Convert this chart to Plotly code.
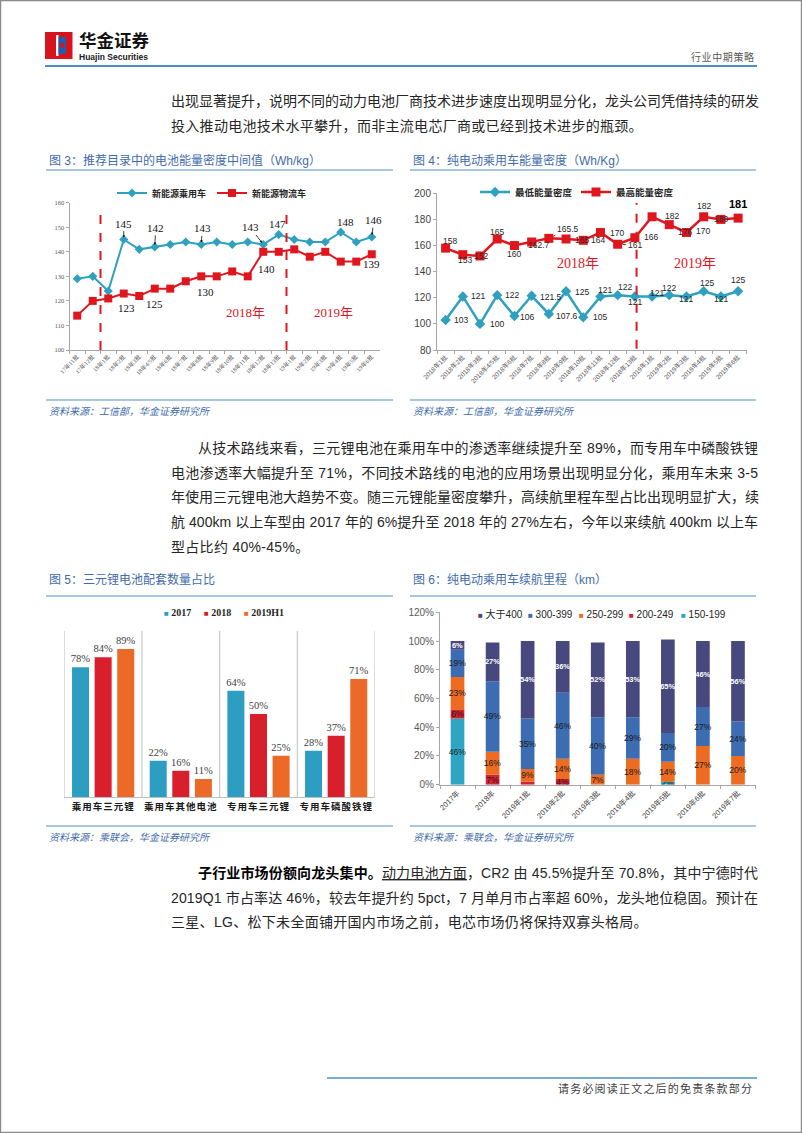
import plotly.graph_objects as go

W, H = 802, 1133
def fx(x): return x / W
def fy(y): return 1 - y / H

CJK = "Noto Sans CJK SC"
SANS = "Liberation Sans, Noto Sans CJK SC"
SERIF = "Liberation Serif, Noto Sans CJK SC"

# ---------------- data ----------------
c3_cats = ["17年11批", "17年12批", "18年1批", "18年2批", "18年3批", "18年4/5批", "18年6批", "18年7批",
           "18年8批", "18年9批", "18年10批", "18年11批", "18年12批", "18年13批", "19年1批", "19年2批",
           "19年3批", "19年4批", "19年5批", "19年6批"]
c3_passenger = [129, 130, 124, 145, 141, 142, 143, 144, 143, 144, 143, 144, 143, 147, 145, 144, 144, 148, 144, 146]
c3_logistics = [114, 120, 121, 123, 122, 125, 125, 128, 130, 130, 132, 130, 140, 140, 141, 138, 140, 136, 136, 139]

c4_cats = ["2018年1批", "2018年2批", "2018年3批", "2018年4/5批", "2018年6批", "2018年7批", "2018年8批",
           "2018年9批", "2018年10批", "2018年11批", "2018年12批", "2018年13批", "2019年1批", "2019年2批",
           "2019年3批", "2019年4批", "2019年5批", "2019年6批"]
c4_min = [103, 121, 100, 122, 106, 121.5, 107.6, 125, 105, 121, 122, 121, 121, 122, 121, 125, 121, 125]
c4_max = [158, 153, 152, 165, 160, 162.7, 165.5, 165, 164, 170, 161, 166, 182, 176, 170, 182, 180, 181]

c5_cats = ["乘用车三元锂", "乘用车其他电池", "专用车三元锂", "专用车磷酸铁锂"]
c5_2017 = [78, 22, 64, 28]
c5_2018 = [84, 16, 50, 37]
c5_2019h1 = [89, 11, 25, 71]

c6_cats = ["2017年", "2018年", "2019年1批", "2019年2批", "2019年3批", "2019年4批", "2019年5批", "2019年6批", "2019年7批"]
c6_150_199 = [46, 0, 0, 0, 0, 0, 2, 0, 0]
c6_200_249 = [6, 7, 2, 4, 0, 0, 0, 0, 0]
c6_250_299 = [23, 16, 9, 14, 7, 18, 14, 27, 20]
c6_300_399 = [19, 49, 35, 46, 40, 29, 20, 27, 24]
c6_400_up = [6, 27, 54, 36, 52, 53, 65, 46, 56]
c6_hidden_labels = [("200-249", 2)]

# colours
C_TEAL = "#2fa1bf"
C_RED = "#e0161f"
TITLE_C = "#3f6caa"
RULE_C = "#a9c6e2"

fig = go.Figure()

# ---------------- chart 3 ----------------
fig.add_trace(go.Scatter(x=c3_cats, y=c3_passenger, name="新能源乘用车", mode="lines+markers",
                         line=dict(color=C_TEAL, width=2), marker=dict(symbol="diamond", size=7, color=C_TEAL),
                         xaxis="x", yaxis="y", legend="legend", cliponaxis=False))
fig.add_trace(go.Scatter(x=c3_cats, y=c3_logistics, name="新能源物流车", mode="lines+markers",
                         line=dict(color=C_RED, width=2), marker=dict(symbol="square", size=8, color=C_RED),
                         xaxis="x", yaxis="y", legend="legend", cliponaxis=False))

# ---------------- chart 4 ----------------
fig.add_trace(go.Scatter(x=c4_cats, y=c4_min, name="最低能量密度", mode="lines+markers",
                         line=dict(color=C_TEAL, width=2.5), marker=dict(symbol="diamond", size=8, color=C_TEAL),
                         xaxis="x2", yaxis="y2", legend="legend2", cliponaxis=False))
fig.add_trace(go.Scatter(x=c4_cats, y=c4_max, name="最高能量密度", mode="lines+markers",
                         line=dict(color=C_RED, width=2.5), marker=dict(symbol="square", size=9, color=C_RED),
                         xaxis="x2", yaxis="y2", legend="legend2", cliponaxis=False))

# ---------------- chart 5 ----------------
c5_series = [("2017", c5_2017, "#2d9dc2"), ("2018", c5_2018, "#d81f2c"), ("2019H1", c5_2019h1, "#ec6a28")]
c5_centers = [-0.291, 0.0, 0.291]
c5_w = 0.219
for (name, vals, col), c in zip(c5_series, c5_centers):
    fig.add_trace(go.Bar(x=c5_cats, y=vals, name=name, width=c5_w, offset=c - c5_w / 2,
                         marker=dict(color=col, line=dict(width=0)),
                         text=[f"{v}%" for v in vals], textposition="outside", constraintext="none",
                         textangle=0, textfont=dict(family=SERIF, size=10.5, color="#404040"),
                         xaxis="x3", yaxis="y3", showlegend=False, cliponaxis=False))

# ---------------- chart 6 ----------------
c6_series = [("150-199", c6_150_199, "#2ea6c3", "#1a1a1a"),
             ("200-249", c6_200_249, "#d42234", "#1a1a1a"),
             ("250-299", c6_250_299, "#ee6b22", "#1a1a1a"),
             ("300-399", c6_300_399, "#3c6db2", "#1a1a1a"),
             ("大于400", c6_400_up, "#47497e", "#ffffff")]
base = [0] * len(c6_cats)
for name, vals, col, tcol in c6_series:
    texts = [("" if (v == 0 or (name, i) in c6_hidden_labels) else f"{v}%") for i, v in enumerate(vals)]
    fig.add_trace(go.Bar(x=c6_cats, y=vals, base=list(base), name=name, width=0.39, offset=-0.195,
                         marker=dict(color=col, line=dict(width=0)),
                         text=texts, textposition="inside", insidetextanchor="middle", textangle=0,
                         constraintext="none",
                         textfont=dict(family=SANS, size=(7.5 if tcol == "#ffffff" else 8.5), color=tcol,
                                       weight=("bold" if tcol == "#ffffff" else "normal")),
                         xaxis="x4", yaxis="y4", showlegend=False))
    base = [b + v for b, v in zip(base, vals)]

AX_LINE = "#a6a6a6"
common_x = dict(showgrid=False, zeroline=False, showline=True, linecolor=AX_LINE, linewidth=1,
                ticks="outside", ticklen=3, tickcolor=AX_LINE, type="category", tickmode="array",
                automargin=False)
common_y = dict(showgrid=False, zeroline=False, showline=True, linecolor=AX_LINE, linewidth=1,
                ticks="outside", ticklen=3, tickcolor=AX_LINE, automargin=False)

layout = dict(
    width=W, height=H, margin=dict(l=0, r=0, t=0, b=0, pad=0, autoexpand=False),
    paper_bgcolor="white", plot_bgcolor="rgba(0,0,0,0)",
    barmode="overlay",
    xaxis=dict(common_x, domain=[fx(69.5), fx(379.5)], anchor="y", range=[-0.5, 19.5],
               tickvals=c3_cats, ticktext=c3_cats, tickson="boundaries", tickangle=-45,
               tickfont=dict(family=SERIF, size=6, color="#595959")),
    yaxis=dict(common_y, domain=[fy(350), fy(202.7)], anchor="x", range=[100, 160], dtick=10,
               tickfont=dict(family=SERIF, size=6.5, color="#595959")),
    xaxis2=dict(common_x, domain=[fx(437), fx(746.7)], anchor="y2", range=[-0.5, 17.5],
                tickvals=c4_cats, ticktext=c4_cats, tickson="boundaries", tickangle=-45,
                tickfont=dict(family=SANS, size=6.5, color="#595959")),
    yaxis2=dict(common_y, domain=[fy(350), fy(193.3)], anchor="x2", range=[80, 200], dtick=20,
                tickfont=dict(family=SANS, size=10, color="#404040")),
    xaxis3=dict(common_x, domain=[fx(64.3), fx(375)], anchor="y3", range=[-0.5, 3.5],
                tickvals=c5_cats, ticktext=[f'<span style="letter-spacing:1px">{c}</span>' for c in c5_cats],
                ticks="", linecolor="#bfbfbf",
                tickfont=dict(family=CJK, size=9.5, color="#1a1a1a", weight="bold")),
    yaxis3=dict(domain=[fy(797.3), fy(630.7)], anchor="x3", range=[0, 100], visible=False),
    xaxis4=dict(common_x, domain=[fx(440), fx(755.5)], anchor="y4", range=[-0.5, 8.5],
                tickvals=c6_cats, ticktext=c6_cats, tickson="boundaries", tickangle=-45,
                tickfont=dict(family=SANS, size=7.5, color="#404040")),
    yaxis4=dict(common_y, domain=[fy(784.7), fy(612.3)], anchor="x4", range=[0, 120], dtick=20,
                ticksuffix="%", tickfont=dict(family=SANS, size=10, color="#595959")),
    legend=dict(x=fx(112), y=fy(193), xanchor="left", yanchor="middle", orientation="h",
                bgcolor="rgba(0,0,0,0)", entrywidth=55, entrywidthmode="pixels", itemwidth=30,
                font=dict(family=CJK, size=9, color="#262626", weight="bold")),
    legend2=dict(x=fx(475), y=fy(192), xanchor="left", yanchor="middle", orientation="h",
                 bgcolor="rgba(0,0,0,0)", entrywidth=56, entrywidthmode="pixels", itemwidth=30,
                 font=dict(family=CJK, size=9.5, color="#262626", weight="bold")),
)
fig.update_layout(**layout)

shapes = []
annotations = []

def hline(x0, x1, y, color, width):
    shapes.append(dict(type="line", xref="paper", yref="paper", x0=fx(x0), x1=fx(x1), y0=fy(y), y1=fy(y),
                       line=dict(color=color, width=width)))

def text_at(x, y, s, size, color, family=CJK, xanchor="left", **kw):
    annotations.append(dict(xref="paper", yref="paper", x=fx(x), y=fy(y), text=s, showarrow=False,
                            xanchor=xanchor, yanchor="middle",
                            font=dict(size=size, color=color, family=family), **kw))

# page border
shapes.append(dict(type="rect", xref="paper", yref="paper", x0=fx(0.6), x1=fx(801.4), y0=fy(0.6), y1=fy(1132.4),
                   line=dict(color="#8a8a8a", width=1.2)))

# header logo
shapes.append(dict(type="rect", xref="paper", yref="paper", x0=fx(45), x1=fx(72.5), y0=fy(59), y1=fy(32),
                   fillcolor="#d7141d", line=dict(width=0)))
shapes.append(dict(type="rect", xref="paper", yref="paper", x0=fx(56), x1=fx(58.5), y0=fy(56), y1=fy(35),
                   fillcolor="white", line=dict(width=0)))
shapes.append(dict(type="rect", xref="paper", yref="paper", x0=fx(58.5), x1=fx(66), y0=fy(54), y1=fy(37),
                   fillcolor="#1d5fae", line=dict(width=0)))
shapes.append(dict(type="rect", xref="paper", yref="paper", x0=fx(60.5), x1=fx(64), y0=fy(48), y1=fy(43),
                   fillcolor="#d7141d", line=dict(width=0)))
text_at(77, 39.5, "<b>华金证券</b>", 17.5, "#111111")
text_at(77, 56.5, "<b>Huajin Securities</b>", 8.5, "#222222", family=SANS)
text_at(757, 57, '<span style="letter-spacing:0.6px">行业中期策略</span>', 10, "#595959", xanchor="right")
hline(45, 757, 66, "#4d90c6", 2)

# ----- paragraph helper with justification -----
ARIAL = {'0': 556, '1': 556, '2': 556, '3': 556, '4': 556, '5': 556, '6': 556, '7': 556, '8': 556, '9': 556,
         '%': 889, '.': 278, '-': 333, ' ': 278, 'k': 500, 'm': 833, 'L': 556, 'G': 778, 'C': 722,
         'R': 722, 'Q': 778, 'p': 556, 'c': 500, 't': 278}

def est_width(s, size):
    w = 0.0
    for ch in s:
        if ord(ch) > 0x2000:
            w += size
        else:
            w += ARIAL.get(ch, 556) / 1000 * size
    return w

BODY_C = "#262626"
def para_line(x, y, segments, size=14, right=None, spacing=0.3):
    full = "".join(t for t, _ in segments)
    ls = spacing
    if right is not None:
        n = len(full)
        ls = max(0.0, (right - x - est_width(full, size)) / (n - 1))
    parts = []
    for t, st in segments:
        style = f"letter-spacing:{ls:.3f}px"
        if st:
            style += ";" + st
        parts.append(f'<span style="{style}">{t}</span>')
    text_at(x, y, "".join(parts), size, BODY_C, family=SANS)

# paragraph 1
para_line(169, 100.5, [("出现显著提升，说明不同的动力电池厂商技术进步速度出现明显分化，龙头公司凭借持续的研发", "")], right=756)
para_line(169, 126.5, [("投入推动电池技术水平攀升，而非主流电芯厂商或已经到技术进步的瓶颈。", "")])

# paragraph 2
p2 = [(196, "从技术路线来看，三元锂电池在乘用车中的渗透率继续提升至 89%，而专用车中磷酸铁锂", True),
      (169, "电池渗透率大幅提升至 71%，不同技术路线的电池的应用场景出现明显分化，乘用车未来 3-5", True),
      (169, "年使用三元锂电池大趋势不变。随三元锂能量密度攀升，高续航里程车型占比出现明显扩大，续", True),
      (169, "航 400km 以上车型由 2017 年的 6%提升至 2018 年的 27%左右，今年以来续航 400km 以上车", True),
      (169, "型占比约 40%-45%。", False)]
for k, (x0, s, just) in enumerate(p2):
    para_line(x0, 448 + k * 24.7, [(s, "")], right=(756 if just else None))

# paragraph 3
para_line(196, 873, [("子行业市场份额向龙头集中。", "font-weight:bold;fill:#000000"),
                     ("动力电池方面", "text-decoration:underline"),
                     ("，CR2 由 45.5%提升至 70.8%，其中宁德时代", "")], right=756)
para_line(169, 897.5, [("2019Q1 市占率达 46%，较去年提升约 5pct，7 月单月市占率超 60%，龙头地位稳固。预计在", "")], right=756)
para_line(169, 922, [("三星、LG、松下未全面铺开国内市场之前，电芯市场仍将保持双寡头格局。", "")])

# figure titles / rules / sources
text_at(47, 160, "图 3：推荐目录中的电池能量密度中间值（Wh/kg）", 12, TITLE_C, family=SANS)
text_at(411, 160, "图 4：纯电动乘用车能量密度（Wh/Kg）", 12, TITLE_C, family=SANS)
hline(46, 393, 170, RULE_C, 2)
hline(410, 756, 170, RULE_C, 2)
hline(46, 393, 400, RULE_C, 2)
hline(410, 756, 400, RULE_C, 2)
text_at(47, 410.5, "<i>资料来源：工信部，华金证券研究所</i>", 10, TITLE_C)
text_at(411, 410.5, "<i>资料来源：工信部，华金证券研究所</i>", 10, TITLE_C)

text_at(47, 579, "图 5：三元锂电池配套数量占比", 12, TITLE_C, family=SANS)
text_at(411, 579, "图 6：纯电动乘用车续航里程（km）", 12, TITLE_C, family=SANS)
hline(46, 393, 596, RULE_C, 2)
hline(410, 756, 596, RULE_C, 2)
hline(46, 393, 826, RULE_C, 2)
hline(410, 756, 826, RULE_C, 2)
text_at(47, 836, "<i>资料来源：乘联会，华金证券研究所</i>", 10, TITLE_C)
text_at(411, 836, "<i>资料来源：乘联会，华金证券研究所</i>", 10, TITLE_C)

# footer
hline(327, 757, 1078, "#4d90c6", 1.5)
text_at(755, 1088, '<span style="letter-spacing:1.2px">请务必阅读正文之后的免责条款部分</span>', 11, "#404040",
        xanchor="right")

# ----- chart 3 extras -----
for xv in [1.5, 13.5]:
    shapes.append(dict(type="line", xref="x", yref="y", x0=xv, x1=xv, y0=100, y1=157.8,
                       line=dict(color=C_RED, width=2, dash="dash")))
text_at(245, 313, "2018年", 13, C_RED, family=SERIF, xanchor="center")
text_at(333, 313, "2019年", 13, C_RED, family=SERIF, xanchor="center")

c3_p_lab = [(3, 0, -13, True), (5, 1, -16, True), (8, 1, -13, True), (12, -13, -14, True),
            (13, -1, -11, False), (17, 5, -10, False), (19, 2, -14, True)]
for i, dx, dy, arrow in c3_p_lab:
    a = dict(xref="x", yref="y", x=c3_cats[i], y=c3_passenger[i], text=str(c3_passenger[i]),
             font=dict(family=SERIF, size=11, color="#111111"))
    if arrow:
        a.update(showarrow=True, ax=dx, ay=dy - 3, arrowhead=2, arrowsize=0.6, arrowwidth=0.8,
                 arrowcolor="#111111", standoff=2)
    else:
        a.update(showarrow=False, xshift=dx, yshift=-dy)
    annotations.append(a)
c3_l_lab = [(3, 3, 14), (5, 0, 15), (8, 4, 16), (12, 3, 17), (19, 0, 10)]
for i, dx, dy in c3_l_lab:
    annotations.append(dict(xref="x", yref="y", x=c3_cats[i], y=c3_logistics[i], text=str(c3_logistics[i]),
                            showarrow=False, xshift=dx, yshift=-dy,
                            font=dict(family=SERIF, size=11, color="#111111")))

# ----- chart 4 extras -----
shapes.append(dict(type="line", xref="x2", yref="y2", x0=11.1, x1=11.1, y0=81, y1=192.5,
                   line=dict(color=C_RED, width=2, dash="dash")))
text_at(578, 263, "2018年", 14, C_RED, family=SERIF, xanchor="center")
text_at(695, 263, "2019年", 14, C_RED, family=SERIF, xanchor="center")

c4_max_off = [(4, -7), (2, 5), (1, 0), (0, -7), (0, 8), (7, 3), (19, -9), (16, 1), (15, 0), (17, 1),
              (17, 1), (16, -1), (20, -1), (16, 7), (17, -1), (0, -11), (0, 0), (0, -14)]
c4_max_leader = [6, 10]
for i, (dx, dy) in enumerate(c4_max_off):
    last = i == len(c4_max) - 1
    a = dict(xref="x2", yref="y2", x=c4_cats[i], y=c4_max[i], text=f"{c4_max[i]:g}",
             font=dict(family=SANS, size=(11 if last else 8.5), color=("#000000" if last else "#262626"),
                       weight=("bold" if last else "normal")))
    if i in c4_max_leader:
        a.update(showarrow=True, ax=dx, ay=dy, arrowhead=0, arrowwidth=0.8, arrowcolor="#111111",
                 standoff=5)
    else:
        a.update(showarrow=False, xshift=dx, yshift=-dy)
    annotations.append(a)

c4_min_off = [(15, 0), (15, 0), (17, 0), (15, 0), (13, 1), (19, 1), (18, 2), (16, 1), (17, 0),
              (5, -6), (7, -8), (0, 6), (5, -3), (0, -7), (0, 3), (3, -8), (0, 3), (0, -11)]
for i, (dx, dy) in enumerate(c4_min_off):
    annotations.append(dict(xref="x2", yref="y2", x=c4_cats[i], y=c4_min[i], text=f"{c4_min[i]:g}",
                            showarrow=False, xshift=dx, yshift=-dy,
                            font=dict(family=SANS, size=8.5, color="#262626")))

# ----- chart 5 extras -----
for k in range(len(c5_cats) + 1):
    shapes.append(dict(type="line", xref="x3", yref="y3", x0=k - 0.5, x1=k - 0.5, y0=0, y1=100,
                       line=dict(color="#bfbfbf", width=1)))
for (name, vals, col), lx in zip(c5_series, [162, 202, 242]):
    text_at(lx, 612, f'<span style="fill:{col};font-size:8px">■</span> <b>{name}</b>', 10, "#262626",
            family=SERIF)

# ----- chart 6 legend -----
for (name, vals, col, tcol), lx in zip(reversed(c6_series), [476, 526, 577, 627, 679]):
    text_at(lx, 614, f'<span style="fill:{col};font-size:8px">■</span> {name}', 10, "#262626", family=SANS)

fig.update_layout(shapes=shapes, annotations=annotations)
fig.write_html("out.html", config={"displayModeBar": False},
               post_script="document.body.style.margin='0';document.body.style.overflow='hidden';")
